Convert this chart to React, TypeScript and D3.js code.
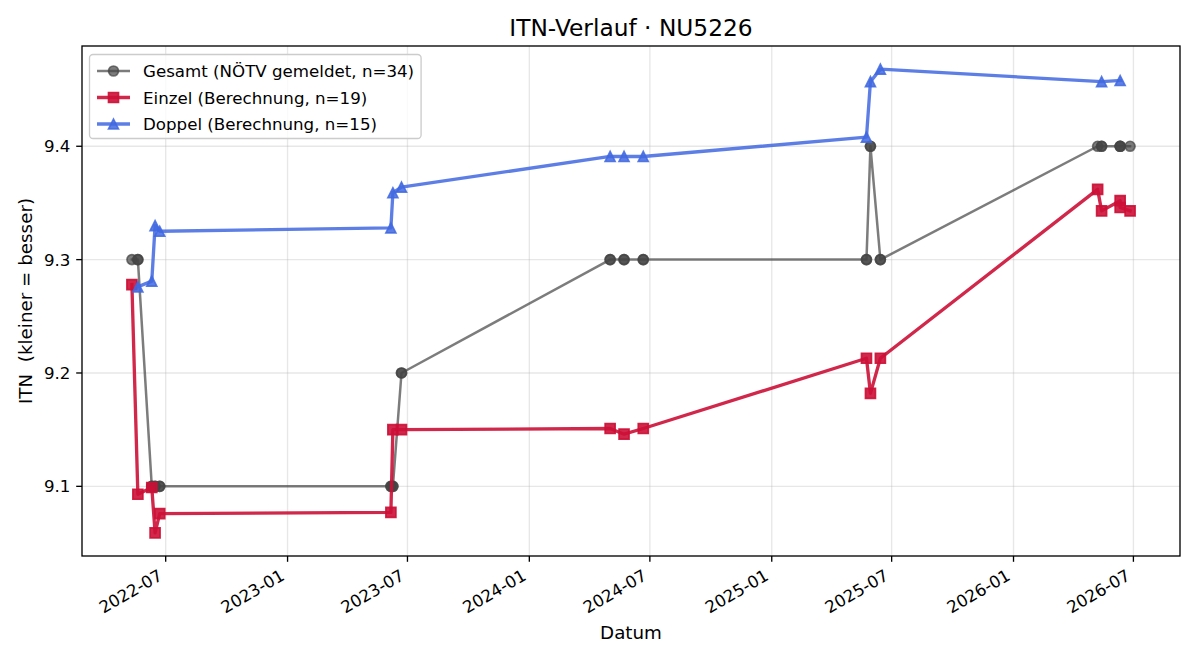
import React, { useEffect, useRef } from 'react';
import * as d3 from 'd3';

// ==================== DATA ====================
const gesamtDates = [
  '2022-05-11', '2022-05-20', '2022-05-20', '2022-06-10', '2022-06-10', '2022-06-15', '2022-06-15',
  '2022-06-22', '2022-06-22', '2023-06-06', '2023-06-06', '2023-06-09', '2023-06-09', '2023-06-22',
  '2023-06-22', '2024-05-02', '2024-05-02', '2024-05-23', '2024-05-23', '2024-06-21', '2024-06-21',
  '2025-05-24', '2025-05-24', '2025-05-30', '2025-05-30', '2025-06-14', '2025-06-14', '2026-05-08',
  '2026-05-14', '2026-05-14', '2026-06-11', '2026-06-11', '2026-06-11', '2026-06-26',
];
const gesamtValues = [
  9.3, 9.3, 9.3, 9.1, 9.1, 9.1, 9.1,
  9.1, 9.1, 9.1, 9.1, 9.1, 9.1, 9.2,
  9.2, 9.3, 9.3, 9.3, 9.3, 9.3, 9.3,
  9.3, 9.3, 9.4, 9.4, 9.3, 9.3, 9.4,
  9.4, 9.4, 9.4, 9.4, 9.4, 9.4,
];

const einzelDates = [
  '2022-05-11', '2022-05-20', '2022-06-10', '2022-06-15', '2022-06-22',
  '2023-06-06', '2023-06-09', '2023-06-22',
  '2024-05-02', '2024-05-23', '2024-06-21',
  '2025-05-24', '2025-05-30', '2025-06-14',
  '2026-05-08', '2026-05-14', '2026-06-11', '2026-06-11', '2026-06-26',
];
const einzelValues = [
  9.278, 9.093, 9.099, 9.059, 9.076,
  9.077, 9.150, 9.150,
  9.151, 9.146, 9.151,
  9.213, 9.182, 9.213,
  9.362, 9.343, 9.352, 9.346, 9.343,
];

const doppelDates = [
  '2022-05-20', '2022-06-10', '2022-06-15', '2022-06-22',
  '2023-06-06', '2023-06-09', '2023-06-22',
  '2024-05-02', '2024-05-23', '2024-06-21',
  '2025-05-24', '2025-05-30', '2025-06-14',
  '2026-05-14', '2026-06-11',
];
const doppelValues = [
  9.276, 9.281, 9.330, 9.325,
  9.328, 9.359, 9.364,
  9.391, 9.391, 9.391,
  9.408, 9.457, 9.468,
  9.457, 9.458,
];

const TITLE = 'ITN-Verlauf · NU5226';
const X_LABEL = 'Datum';
const Y_LABEL = 'ITN  (kleiner = besser)';

// ==================== CONFIG ====================
const W = 1200;
const H = 660;
const M = { left: 82, right: 1180, top: 46, bottom: 556 };
const FONT = "'DejaVu Sans', sans-serif";
const FS = 16.67;
const FS_LABEL = 18.3;

type Series = {
  label: string;
  dates: string[];
  values: number[];
  color: string;
  alpha: number;
  lw: number;
  marker: 'circle' | 'square' | 'triangle';
};

const SERIES: Series[] = [
  { label: 'Gesamt (NÖTV gemeldet, n=34)', dates: gesamtDates, values: gesamtValues, color: '#444444', alpha: 0.7, lw: 2.5, marker: 'circle' },
  { label: 'Einzel (Berechnung, n=19)', dates: einzelDates, values: einzelValues, color: '#cc1036', alpha: 0.9, lw: 3.33, marker: 'square' },
  { label: 'Doppel (Berechnung, n=15)', dates: doppelDates, values: doppelValues, color: '#4169e1', alpha: 0.85, lw: 3.33, marker: 'triangle' },
];

const markerPath = (m: Series['marker']) => {
  const s = 5; // half size (6pt at 120dpi)
  if (m === 'circle') return d3.symbol(d3.symbolCircle, Math.PI * s * s)() as string;
  if (m === 'square') return `M${-s},${-s}H${s}V${s}H${-s}Z`;
  return `M0,${-s}L${s},${s}L${-s},${s}Z`;
};

const App = () => {
  const svgRef = useRef<SVGSVGElement | null>(null);

  useEffect(() => {
    const svg = d3.select(svgRef.current);
    svg.selectAll('*').remove();

    const parse = d3.timeParse('%Y-%m-%d');
    const allDates = SERIES.flatMap(s => s.dates.map(d => parse(d) as Date));
    const allVals = SERIES.flatMap(s => s.values);

    // matplotlib-like 5% margins
    const [d0, d1] = d3.extent(allDates) as [Date, Date];
    const dPad = (+d1 - +d0) * 0.05;
    const [v0, v1] = d3.extent(allVals) as [number, number];
    const vPad = (v1 - v0) * 0.05;

    const x = d3.scaleTime().domain([new Date(+d0 - dPad), new Date(+d1 + dPad)]).range([M.left, M.right]);
    const y = d3.scaleLinear().domain([v0 - vPad, v1 + vPad]).range([M.bottom, M.top]);

    svg.append('rect').attr('width', W).attr('height', H).attr('fill', '#fff');

    // grid
    const xTicks = x.ticks(d3.timeMonth.every(6) as d3.TimeInterval);
    const yTicks = y.ticks(5);
    const grid = svg.append('g').attr('stroke', '#b0b0b0').attr('stroke-opacity', 0.3).attr('stroke-width', 1.33);
    grid.selectAll('.gx').data(xTicks).enter().append('line')
      .attr('x1', d => x(d)).attr('x2', d => x(d)).attr('y1', M.top).attr('y2', M.bottom);
    grid.selectAll('.gy').data(yTicks).enter().append('line')
      .attr('y1', d => y(d)).attr('y2', d => y(d)).attr('x1', M.left).attr('x2', M.right);

    // series
    const line = d3.line<[Date, number]>().x(d => x(d[0])).y(d => y(d[1]));
    SERIES.forEach(s => {
      const pts: [Date, number][] = s.dates.map((d, i) => [parse(d) as Date, s.values[i]]);
      svg.append('path')
        .datum(pts)
        .attr('d', line)
        .attr('fill', 'none')
        .attr('stroke', s.color)
        .attr('stroke-opacity', s.alpha)
        .attr('stroke-width', s.lw)
        .attr('stroke-linejoin', 'round')
        .attr('stroke-linecap', 'square');
      svg.append('g').selectAll('path').data(pts).enter().append('path')
        .attr('d', markerPath(s.marker))
        .attr('transform', d => `translate(${x(d[0])},${y(d[1])})`)
        .attr('fill', s.color)
        .attr('fill-opacity', s.alpha)
        .attr('stroke', s.color)
        .attr('stroke-opacity', s.alpha)
        .attr('stroke-width', 1.67);
    });

    // frame
    svg.append('rect')
      .attr('x', M.left).attr('y', M.top)
      .attr('width', M.right - M.left).attr('height', M.bottom - M.top)
      .attr('fill', 'none').attr('stroke', '#000').attr('stroke-width', 1.33);

    // x ticks
    const fmt = d3.timeFormat('%Y-%m');
    const xt = svg.append('g');
    xTicks.forEach(t => {
      const px = x(t);
      xt.append('line').attr('x1', px).attr('x2', px).attr('y1', M.bottom).attr('y2', M.bottom + 5.8)
        .attr('stroke', '#000').attr('stroke-width', 1.33);
      xt.append('text')
        .attr('transform', `translate(${px - 2},${M.bottom + 23}) rotate(-30)`)
        .attr('text-anchor', 'end')
        .attr('font-family', FONT).attr('font-size', FS).attr('fill', '#000')
        .text(fmt(t));
    });

    // y ticks
    const yt = svg.append('g');
    yTicks.forEach(t => {
      const py = y(t);
      yt.append('line').attr('x1', M.left - 5.8).attr('x2', M.left).attr('y1', py).attr('y2', py)
        .attr('stroke', '#000').attr('stroke-width', 1.33);
      yt.append('text')
        .attr('x', M.left - 11.6).attr('y', py).attr('dy', '0.36em')
        .attr('text-anchor', 'end')
        .attr('font-family', FONT).attr('font-size', FS).attr('fill', '#000')
        .text(d3.format('.1f')(t));
    });

    // labels
    svg.append('text')
      .attr('x', (M.left + M.right) / 2).attr('y', 36)
      .attr('text-anchor', 'middle').attr('font-family', FONT).attr('font-size', 23.3)
      .text(TITLE);
    svg.append('text')
      .attr('x', (M.left + M.right) / 2).attr('y', 639)
      .attr('text-anchor', 'middle').attr('font-family', FONT).attr('font-size', FS_LABEL)
      .text(X_LABEL);
    svg.append('text')
      .attr('transform', `translate(32,${(M.top + M.bottom) / 2}) rotate(-90)`)
      .attr('text-anchor', 'middle').attr('font-family', FONT).attr('font-size', FS_LABEL)
      .style('white-space', 'pre')
      .text(Y_LABEL);

    // legend
    const lg = svg.append('g');
    const box = lg.append('rect')
      .attr('x', 89.5).attr('y', 54.5).attr('rx', 3.5).attr('ry', 3.5)
      .attr('height', 84)
      .attr('fill', '#fff').attr('fill-opacity', 0.8)
      .attr('stroke', '#cccccc').attr('stroke-width', 1.33);
    let maxW = 0;
    SERIES.forEach((s, i) => {
      const cy = 71 + i * 26.5;
      lg.append('line').attr('x1', 97).attr('x2', 130).attr('y1', cy).attr('y2', cy)
        .attr('stroke', s.color).attr('stroke-opacity', s.alpha).attr('stroke-width', s.lw);
      lg.append('path').attr('d', markerPath(s.marker)).attr('transform', `translate(113.5,${cy})`)
        .attr('fill', s.color).attr('fill-opacity', s.alpha)
        .attr('stroke', s.color).attr('stroke-opacity', s.alpha).attr('stroke-width', 1.67);
      const t = lg.append('text').attr('x', 143).attr('y', cy).attr('dy', '0.36em')
        .attr('font-family', FONT).attr('font-size', FS).text(s.label);
      const node = t.node() as SVGTextElement;
      maxW = Math.max(maxW, node.getComputedTextLength());
    });
    box.attr('width', 143 + maxW + 7 - 89.5);
  }, []);

  return (
    <svg
      ref={svgRef}
      width={W}
      height={H}
      style={{ position: 'absolute', left: 0, top: 0, display: 'block' }}
    />
  );
};

export default App;
